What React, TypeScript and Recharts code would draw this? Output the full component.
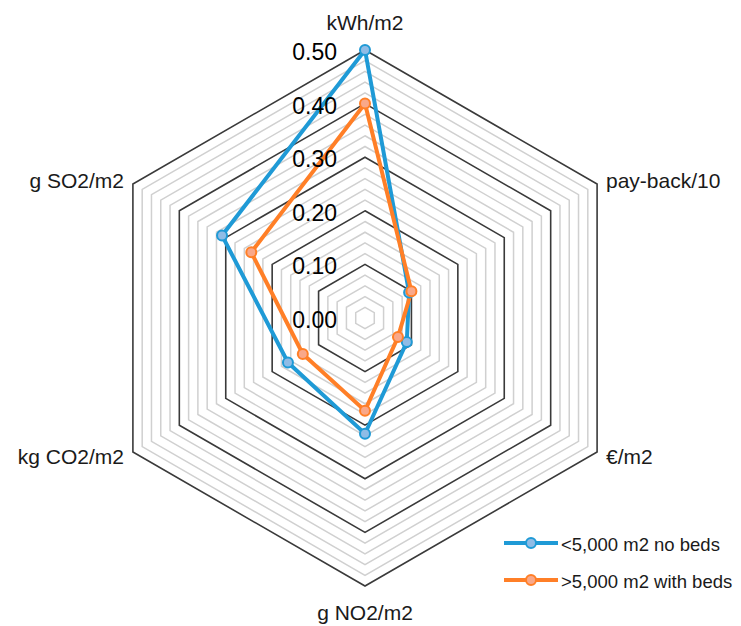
import { PolarAngleAxis, PolarGrid, PolarRadiusAxis, Radar, RadarChart, Legend } from 'recharts';

const categories = ['kWh/m2', 'pay-back/10', '€/m2', 'g NO2/m2', 'kg CO2/m2', 'g SO2/m2'];
const noBeds = [0.5, 0.095, 0.09, 0.216, 0.166, 0.308];
const withBeds = [0.4, 0.1, 0.071, 0.173, 0.134, 0.245];
const radiusTicks = [0, 0.1, 0.2, 0.3, 0.4, 0.5];
const minorTicks = [0.02, 0.04, 0.06, 0.08, 0.12, 0.14, 0.16, 0.18, 0.22, 0.24, 0.26, 0.28, 0.32, 0.34, 0.36, 0.38, 0.42, 0.44, 0.46, 0.48];

const seriesNames = ['<5,000 m2 no beds', '>5,000 m2 with beds'];
const BLUE = '#1F9AD6';
const BLUE_DOT = '#8FBCE6';
const ORANGE = '#FF7F27';
const ORANGE_DOT = '#F9A889';

const FONT = "'Liberation Sans', Arial, sans-serif";
const MAX = 0.5;
const R = 268;

const data = categories.map((name, i) => ({ name, noBeds: noBeds[i], withBeds: withBeds[i] }));

const AngleTick = (props: any) => {
  const { x, y, cx, cy, payload } = props;
  const dx = x - cx;
  const dy = y - cy;
  let anchor = 'middle';
  let tx = x;
  let ty = y;
  if (Math.abs(dx) < 1) {
    ty = dy < 0 ? y - 20 : y + 18;
  } else if (dx > 0) {
    anchor = 'start';
    tx = x + 2;
  } else {
    anchor = 'end';
    tx = x - 2;
  }
  return (
    <text x={tx} y={ty} textAnchor={anchor} dominantBaseline="central" fontSize={21} fontFamily={FONT} fill="#1a1a1a">
      {payload.value}
    </text>
  );
};

const RadiusTick = (props: any) => {
  const { x, y, payload } = props;
  return (
    <text x={x - 28} y={y + 2} textAnchor="end" dominantBaseline="central" fontSize={23} fontFamily={FONT} fill="#000">
      {Number(payload.value).toFixed(2)}
    </text>
  );
};

const LegendContent = () => {
  const colors = [
    [BLUE, BLUE_DOT],
    [ORANGE, ORANGE_DOT],
  ];
  return (
    <svg width={245} height={80} style={{ display: 'block' }}>
      {seriesNames.map((n, i) => (
        <g key={n} transform={`translate(0, ${14 + i * 37})`}>
          <line x1={2} y1={0} x2={56} y2={0} stroke={colors[i][0]} strokeWidth={4} />
          <circle cx={29} cy={0} r={5} fill={colors[i][1]} stroke={colors[i][0]} strokeWidth={2} />
          <text x={59} y={1} dominantBaseline="central" fontSize={18.5} fontFamily={FONT} fill="#1a1a1a">
            {n}
          </text>
        </g>
      ))}
    </svg>
  );
};

export default function App() {
  return (
    <RadarChart width={733} height={618} data={data} cx={357} cy={310} outerRadius={R} margin={{ top: 0, right: 0, bottom: 0, left: 0 }}>
      <PolarGrid gridType="polygon" radialLines={false} polarRadius={minorTicks.map((v) => (v / MAX) * R)} stroke="#D0D0D0" strokeWidth={1.5} />
      <PolarGrid gridType="polygon" radialLines={false} polarRadius={radiusTicks.slice(1).map((v) => (v / MAX) * R)} stroke="#3a3a3a" strokeWidth={1.6} />
      <PolarAngleAxis dataKey="name" tick={<AngleTick />} axisLine={false} tickLine={false} />
      <PolarRadiusAxis
        angle={90}
        type="number"
        domain={[0, MAX]}
        allowDecimals
        allowDataOverflow
        ticks={radiusTicks}
        tick={<RadiusTick />}
        axisLine={false}
        tickLine={false}
      />
      <Radar
        name={seriesNames[0]}
        dataKey="noBeds"
        stroke={BLUE}
        strokeWidth={4}
        fill="none"
        fillOpacity={0}
        dot={{ r: 5, fill: BLUE_DOT, stroke: BLUE, strokeWidth: 2, fillOpacity: 1 }}
        isAnimationActive={false}
      />
      <Radar
        name={seriesNames[1]}
        dataKey="withBeds"
        stroke={ORANGE}
        strokeWidth={4}
        fill="none"
        fillOpacity={0}
        dot={{ r: 5, fill: ORANGE_DOT, stroke: ORANGE, strokeWidth: 2, fillOpacity: 1 }}
        isAnimationActive={false}
      />
      <Legend
        content={<LegendContent />}
        wrapperStyle={{ left: 494, top: 521, width: 245, height: 80 }}
      />
    </RadarChart>
  );
}
